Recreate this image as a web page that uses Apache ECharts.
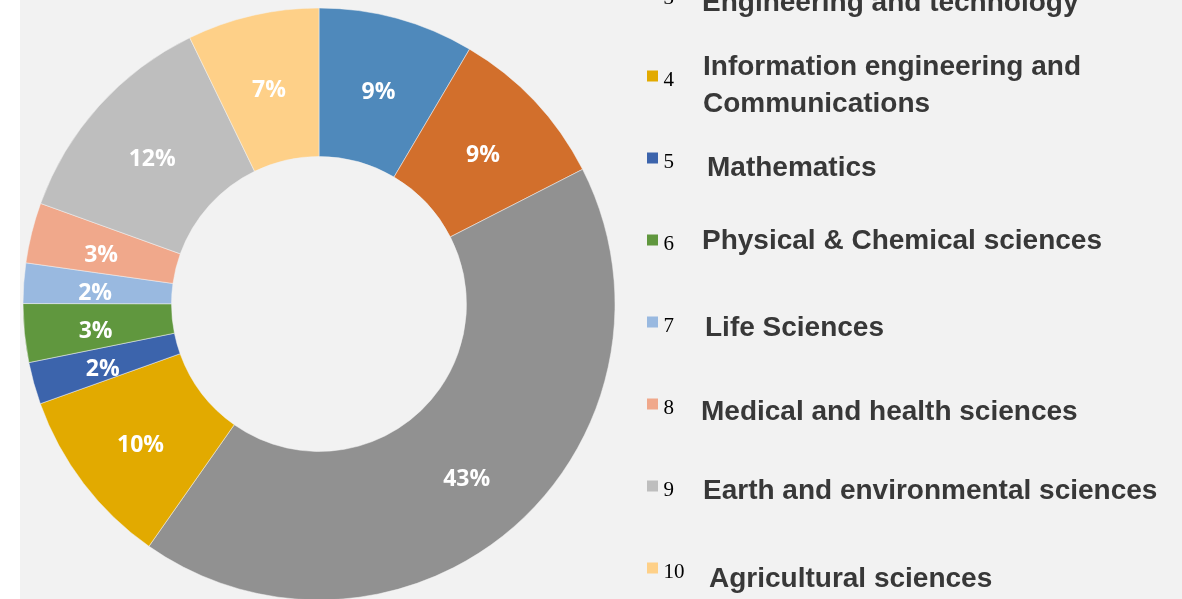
<!DOCTYPE html>
<html>
<head>
<meta charset="utf-8">
<script src="https://cdn.jsdelivr.net/npm/echarts@6/dist/echarts.min.js"></script>
<style>
  html, body { margin: 0; padding: 0; background: #fff; }
  #chart {
    width: 1182px;
    height: 599px;
    background: linear-gradient(to right, #fff 20px, #f2f2f2 20px);
  }
</style>
</head>
<body>
<div id="chart"></div>
<script>
// legend keys (1 and 2 sit above the visible area)
const keys = ['1', '2', '3', '4', '5', '6', '7', '8', '9', '10']
const fields = [
  '', '',
  'Engineering and technology',
  'Information engineering and\nCommunications',
  'Mathematics',
  'Physical & Chemical sciences',
  'Life Sciences',
  'Medical and health sciences',
  'Earth and environmental sciences',
  'Agricultural sciences'
]
const shares = [8.5, 9.0, 42.3, 9.8, 2.3, 3.2, 2.2, 3.3, 12.3, 7.2]
const pctLabels = ['9%', '9%', '43%', '10%', '2%', '3%', '2%', '3%', '12%', '7%']

const colors = ['#4f89bb', '#d26f2c', '#919191', '#e2aa00', '#3c64ac',
                '#60973e', '#99b9e0', '#f0a88b', '#bebebe', '#fed088']

// legend geometry: one row every 82px, first square centre at -170.5
const rowStep = 82
const itemBox = 21
const legendTop = -176
const firstCenter = legendTop + 5.5
// per-label text box placement [x, dy]
const nameLayout = [[702, 9], [702, 9], [702, 9.5], [703, 10.5], [707, 11],
                    [702, 2], [705, 7], [701, 9], [703, 6], [709, 11.5]]

const chart = echarts.init(document.getElementById('chart'))

const nameTexts = fields.map((t, i) => ({
  type: 'text',
  x: nameLayout[i][0],
  y: firstCenter + i * rowStep + nameLayout[i][1],
  silent: true,
  style: {
    text: t,
    font: 'bold 28px "Liberation Sans", Arial, sans-serif',
    fill: '#383838',
    verticalAlign: 'middle',
    lineHeight: 37.5
  }
}))

chart.setOption({
  animation: false,
  color: colors,
  legend: {
    orient: 'vertical',
    left: 647,
    top: legendTop,
    height: 1200,
    padding: 0,
    icon: 'rect',
    itemWidth: 11,
    itemHeight: 11,
    itemGap: rowStep - itemBox,
    selectedMode: false,
    itemStyle: { borderWidth: 0 },
    // a tall spacer token pushes the number down below the square's centre
    formatter: name => `{s| }{n|${name}}`,
    textStyle: {
      rich: {
        s: { fontSize: 2, lineHeight: 30 },
        n: {
          fontFamily: '"Liberation Serif", "Times New Roman", serif',
          fontSize: 21,
          color: '#000',
          lineHeight: 20,
          verticalAlign: 'bottom'
        }
      }
    },
    data: keys
  },
  graphic: nameTexts,
  series: [
    {
      type: 'pie',
      center: [319, 304],
      radius: [147.5, 296],
      startAngle: 90,
      clockwise: true,
      silent: true,
      avoidLabelOverlap: false,
      itemStyle: { borderColor: '#f2f2f2', borderWidth: 0.5 },
      label: {
        show: true,
        position: 'inside',
        // same spacer trick: drop the percentage a few px below the slice midpoint
        formatter: p => `{s| }{v|${pctLabels[p.dataIndex]}}`,
        rich: {
          s: { fontSize: 2, lineHeight: 34 },
          v: {
            color: '#fff',
            fontFamily: '"Open Sans", sans-serif',
            fontWeight: 'bold',
            fontSize: 23,
            lineHeight: 26,
            verticalAlign: 'bottom'
          }
        }
      },
      labelLine: { show: false },
      data: keys.map((k, i) => ({ name: k, value: shares[i] }))
    }
  ]
})
</script>
</body>
</html>
